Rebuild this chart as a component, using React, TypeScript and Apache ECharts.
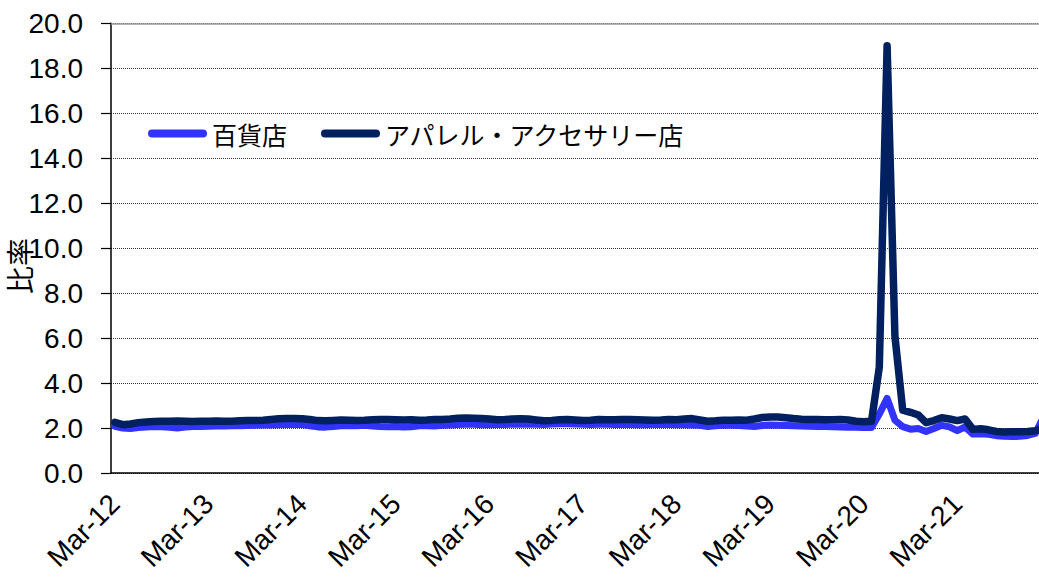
import React, { useEffect, useRef } from "react";
import * as echarts from "echarts";

// Month names and years used to build the category labels (Mar-12 ... Feb-22)
const monthNames = ["Jan", "Feb", "Mar", "Apr", "May", "Jun", "Jul", "Aug", "Sep", "Oct", "Nov", "Dec"];
const startYear = 12;
const startMonth = 2; // March
const monthCount = 120;

const categories: string[] = [];
for (let i = 0; i < monthCount; i++) {
  const m = (startMonth + i) % 12;
  const y = startYear + Math.floor((startMonth + i) / 12);
  categories.push(`${monthNames[m]}-${y}`);
}

const yTicks = [0, 2, 4, 6, 8, 10, 12, 14, 16, 18, 20];

const seriesNames = ["百貨店", "アパレル・アクセサリー店"];

// 百貨店
const deptStore = [
  2.08, 2.0, 1.98, 2.02, 2.05, 2.07, 2.06, 2.03, 2.0, 2.04,
  2.07, 2.07, 2.08, 2.09, 2.09, 2.1, 2.1, 2.11, 2.12, 2.13,
  2.14, 2.15, 2.16, 2.17, 2.16, 2.1, 2.05, 2.04, 2.07, 2.1,
  2.11, 2.1, 2.12, 2.09, 2.07, 2.06, 2.07, 2.05, 2.06, 2.1,
  2.1, 2.09, 2.12, 2.14, 2.16, 2.17, 2.17, 2.15, 2.15, 2.16,
  2.16, 2.17, 2.17, 2.18, 2.17, 2.16, 2.18, 2.19, 2.19, 2.18,
  2.17, 2.16, 2.17, 2.17, 2.16, 2.16, 2.16, 2.15, 2.15, 2.16,
  2.17, 2.16, 2.15, 2.15, 2.14, 2.12, 2.07, 2.1, 2.12, 2.12,
  2.11, 2.09, 2.07, 2.11, 2.13, 2.12, 2.11, 2.1, 2.09, 2.08,
  2.07, 2.07, 2.06, 2.05, 2.04, 2.03, 2.02, 2.02, 2.62, 3.32,
  2.35, 2.06, 1.95, 1.98, 1.85, 1.98, 2.12, 2.05, 1.88, 2.05,
  1.73, 1.75, 1.72, 1.66, 1.63, 1.62, 1.63, 1.67, 1.76, 2.45,
];

// アパレル・アクセサリー店
const apparel = [
  2.25, 2.15, 2.18, 2.24, 2.27, 2.29, 2.3, 2.3, 2.31, 2.3,
  2.29, 2.3, 2.3, 2.31, 2.3, 2.3, 2.32, 2.33, 2.33, 2.35,
  2.38, 2.41, 2.42, 2.42, 2.41, 2.38, 2.33, 2.32, 2.34, 2.36,
  2.35, 2.34, 2.35, 2.37, 2.38, 2.38, 2.37, 2.36, 2.37, 2.35,
  2.36, 2.38, 2.38, 2.4, 2.44, 2.45, 2.44, 2.42, 2.4, 2.37,
  2.38, 2.4, 2.41, 2.4, 2.36, 2.32, 2.34, 2.37, 2.38, 2.36,
  2.33, 2.35, 2.38, 2.37, 2.37, 2.38, 2.38, 2.37, 2.36, 2.35,
  2.36, 2.38, 2.37, 2.4, 2.42, 2.36, 2.3, 2.32, 2.35, 2.35,
  2.36, 2.35, 2.4, 2.47, 2.49, 2.49, 2.46, 2.42, 2.39, 2.38,
  2.38, 2.37, 2.37, 2.38, 2.36, 2.3, 2.28, 2.3, 4.7, 19.0,
  6.1, 2.8, 2.7, 2.58, 2.24, 2.33, 2.46, 2.4, 2.33, 2.4,
  1.94, 1.97, 1.92, 1.85, 1.82, 1.83, 1.84, 1.85, 1.88, 2.0,
];

const numFont = "'Liberation Sans', Arial, sans-serif";
const cjkFont = "'Noto Sans CJK JP', sans-serif";

export default function App() {
  const ref = useRef<HTMLDivElement>(null);

  useEffect(() => {
    if (!ref.current) return;
    const chart = echarts.init(ref.current, undefined, { renderer: "svg" });
    chart.setOption({
      animation: false,
      backgroundColor: "#fff",
      grid: { left: 111, right: 3, top: 23.3, bottom: 112, containLabel: false },
      legend: {
        left: 143,
        top: 116,
        itemWidth: 59,
        itemHeight: 8,
        itemGap: 34,
        icon: "path://M4 0H55A4 4 0 0 1 55 8H4A4 4 0 0 1 4 0Z",
        textStyle: { fontFamily: cjkFont, fontSize: 25, color: "#000" },
        data: seriesNames,
      },
      xAxis: {
        type: "category",
        data: categories,
        boundaryGap: true,
        axisLine: { lineStyle: { color: "#000", width: 1.5 } },
        axisTick: { interval: 11, length: 9, lineStyle: { color: "#808080", width: 1.5 } },
        axisLabel: {
          interval: 11,
          rotate: 45,
          margin: 26,
          fontFamily: numFont,
          fontSize: 28,
          color: "#000",
        },
        splitLine: { show: false },
      },
      yAxis: {
        type: "value",
        min: yTicks[0],
        max: yTicks[yTicks.length - 1],
        interval: 2,
        axisLine: { show: true, lineStyle: { color: "#000", width: 1.5 } },
        axisTick: { show: true, length: 10, lineStyle: { color: "#000", width: 1.2 } },
        axisLabel: {
          formatter: (v: number) => v.toFixed(1),
          margin: 28,
          fontFamily: numFont,
          fontSize: 28,
          color: "#000",
        },
        splitLine: { show: true, lineStyle: { type: "dotted", color: "#333", width: 1 } },
      },
      graphic: [
        {
          type: "text",
          x: 19,
          y: 266,
          rotation: Math.PI / 2,
          style: {
            text: "比率",
            fontFamily: cjkFont,
            fontSize: 28,
            fill: "#000",
            textAlign: "center",
            textVerticalAlign: "middle",
            align: "center",
            verticalAlign: "middle",
          },
        },
      ],
      series: [
        {
          name: seriesNames[0],
          type: "line",
          data: deptStore,
          color: "#3333FF",
          symbol: "none",
          lineStyle: { width: 7, color: "#3333FF", cap: "round", join: "round" },
          z: 2,
        },
        {
          name: seriesNames[1],
          type: "line",
          data: apparel,
          color: "#002060",
          symbol: "none",
          lineStyle: { width: 7.5, color: "#002060", cap: "round", join: "round" },
          z: 3,
          markLine: {
            silent: true,
            symbol: "none",
            label: { show: false },
            lineStyle: { type: "solid", color: "#9a9a9a", width: 1.5 },
            data: [{ yAxis: yTicks[yTicks.length - 1] }],
          },
        },
      ],
    });
    return () => chart.dispose();
  }, []);

  return (
    <div
      style={{
        position: "fixed",
        left: 0,
        top: 0,
        width: 1039,
        height: 585,
        overflow: "hidden",
        background: "#fff",
      }}
    >
      <div ref={ref} style={{ width: 1050, height: 585 }} />
    </div>
  );
}
